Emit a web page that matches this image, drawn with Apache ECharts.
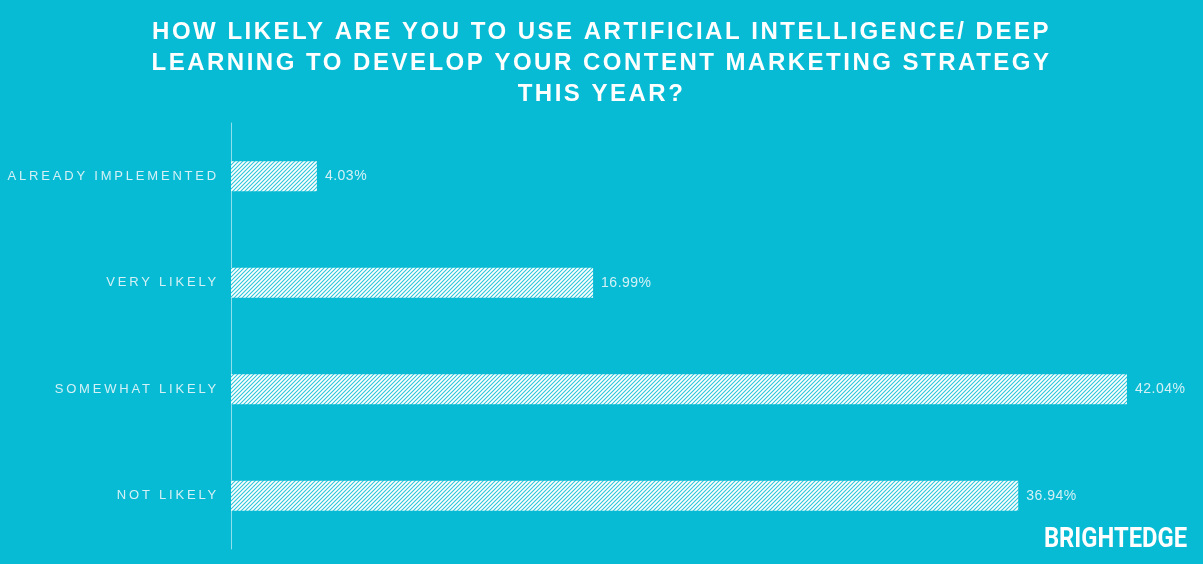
<!DOCTYPE html>
<html><head><meta charset="utf-8">
<script src="https://cdn.jsdelivr.net/npm/echarts@6/dist/echarts.min.js"></script>
<style>html,body{margin:0;padding:0;background:#08BBD4;}#c{width:1203px;height:564px;}</style>
</head><body><div id="c"></div>
<script>
var titleLines = ['HOW LIKELY ARE YOU TO USE ARTIFICIAL INTELLIGENCE/ DEEP', 'LEARNING TO DEVELOP YOUR CONTENT MARKETING STRATEGY', 'THIS YEAR?'];
var categories = ['ALREADY IMPLEMENTED', 'VERY LIKELY', 'SOMEWHAT LIKELY', 'NOT LIKELY'];
var values = [4.03, 16.99, 42.04, 36.94];
var brand = 'BRIGHTEDGE';

// letter spacing for the wide-tracked texts of the reference
(function () {
  var proto = CanvasRenderingContext2D.prototype;
  var orig = proto.fillText;
  proto.fillText = function (t, x, y, m) {
    var f = this.font || '';
    var ls = '0px';
    if (f.indexOf('24px') >= 0) ls = '2.5px';
    else if (f.indexOf('13px') >= 0) ls = '2.8px';
    else if (f.indexOf('14px') >= 0) ls = '0.5px';
    if ('letterSpacing' in this) this.letterSpacing = ls;
    var r = m === undefined ? orig.call(this, t, x, y) : orig.call(this, t, x, y, m);
    if ('letterSpacing' in this) this.letterSpacing = '0px';
    return r;
  };
})();

var bg = '#08BBD4';
var pc = document.createElement('canvas');
pc.width = 4; pc.height = 4;
var px = pc.getContext('2d');
px.fillStyle = '#ffffff'; px.fillRect(0, 0, 4, 4);
px.strokeStyle = 'rgba(8,187,212,0.85)'; px.lineWidth = 1.1;
px.beginPath();
px.moveTo(-1, 5); px.lineTo(5, -1);
px.moveTo(-1, 1); px.lineTo(1, -1);
px.moveTo(3, 5); px.lineTo(5, 3);
px.stroke();

var chart = echarts.init(document.getElementById('c'));
chart.setOption({
  backgroundColor: bg,
  animation: false,
  title: {
    text: titleLines.join('\n'),
    left: 'center', top: 12,
    textStyle: { color: '#ffffff', fontFamily: 'Liberation Sans, Arial, sans-serif', fontWeight: 'bold', fontSize: 24, lineHeight: 31 }
  },
  graphic: [{
    type: 'text', x: 1187, y: 527, scaleX: 0.88,
    style: { text: brand, fill: '#ffffff', textAlign: 'right', textVerticalAlign: 'top', font: 'bold 27px "Roboto", "Liberation Sans", sans-serif' }
  }],
  grid: { left: 231, top: 123, bottom: 15, width: 959, containLabel: false },
  xAxis: {
    type: 'value', min: 0, max: 45, show: false
  },
  yAxis: {
    type: 'category', data: categories, inverse: true,
    axisLine: { show: true, lineStyle: { color: '#8fe0ec', width: 1 } },
    axisTick: { show: false },
    axisLabel: { color: '#d3f1f6', fontFamily: 'Liberation Sans, Arial, sans-serif', fontSize: 13, margin: 12 },
    splitLine: { show: false }
  },
  series: [{
    type: 'bar', data: values, barWidth: 30,
    itemStyle: { color: { image: pc, repeat: 'repeat' } },
    label: { show: true, position: 'right', distance: 8, color: '#d3f1f6', fontFamily: 'Liberation Sans, Arial, sans-serif', fontSize: 14, formatter: function (p) { return p.value.toFixed(2) + '%'; } }
  }]
});
</script></body></html>
